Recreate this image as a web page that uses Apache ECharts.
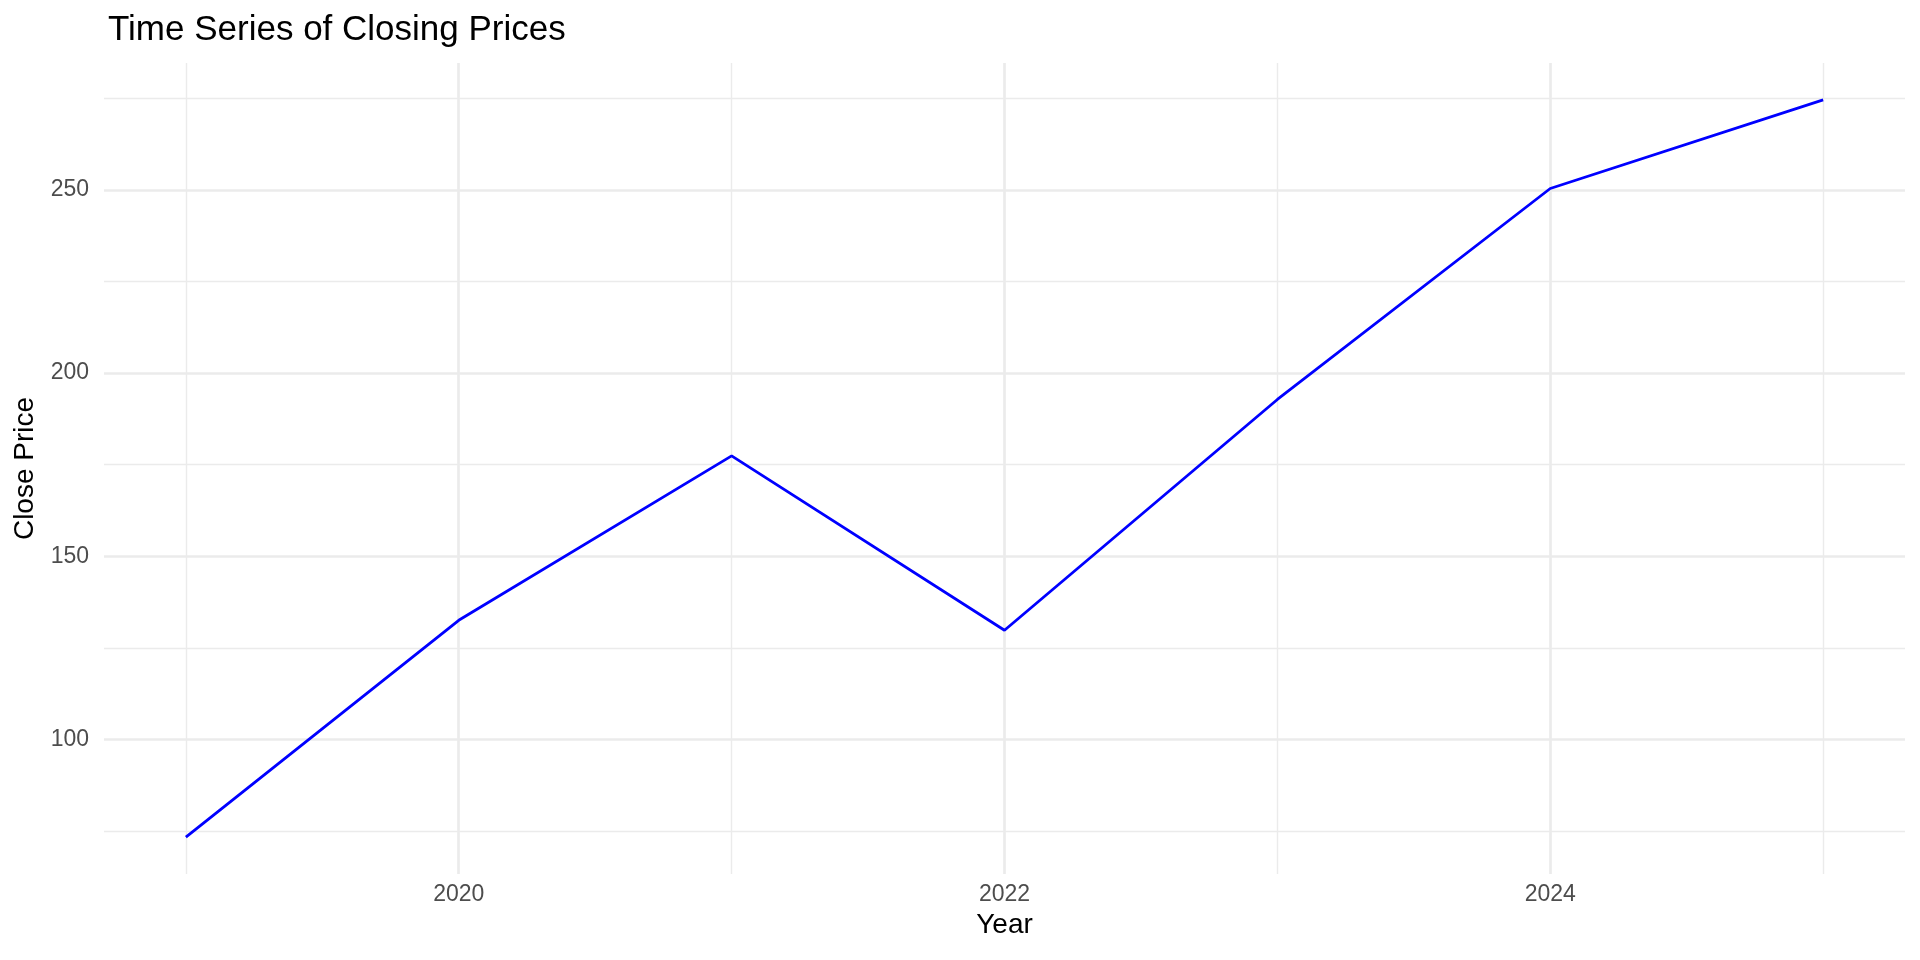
<!DOCTYPE html>
<html><head><meta charset="utf-8">
<script src="https://cdn.jsdelivr.net/npm/echarts@6/dist/echarts.min.js"></script>
<style>html,body{margin:0;padding:0;background:#fff}#c{width:1920px;height:960px}</style>
</head><body><div id="c"></div>
<script>
const years = [2019, 2020, 2021, 2022, 2023, 2024, 2025];
const closePrices = [73.3, 132.5, 177.4, 129.8, 192.8, 250.4, 274.6];
const xMajorTicks = [2020, 2022, 2024];
const xMinorTicks = [2019, 2021, 2023, 2025];
const yMajorTicks = [100, 150, 200, 250];
const yMinorTicks = [75, 125, 175, 225, 275];

function expand(arr) {
  const lo = Math.min(...arr), hi = Math.max(...arr), p = (hi - lo) * 0.05;
  return [lo - p, hi + p];
}
const xr = expand(years), yr = expand(closePrices);
const FONT = 'Liberation Sans';
const gridColor = '#EBEBEB';

const chart = echarts.init(document.getElementById('c'), null, {renderer: 'canvas'});
chart.setOption({
  animation: false,
  backgroundColor: '#ffffff',
  title: {
    text: 'Time Series of Closing Prices',
    left: 103, top: 8,
    textStyle: {fontFamily: FONT, fontSize: 35, fontWeight: 'normal', color: '#000000'}
  },
  grid: {left: 104, right: 15, top: 63, bottom: 86, containLabel: false},
  xAxis: [
    {
      type: 'value', min: xr[0], max: xr[1], position: 'bottom',
      name: 'Year', nameLocation: 'middle', nameGap: 37,
      nameTextStyle: {fontFamily: FONT, fontSize: 28, color: '#000000'},
      axisLine: {show: false},
      axisTick: {show: false, customValues: xMajorTicks},
      axisLabel: {customValues: xMajorTicks, fontFamily: FONT, fontSize: 23, color: '#4D4D4D', margin: 9,
        formatter: v => String(v)},
      splitLine: {show: true, lineStyle: {color: gridColor, width: 2.7}}
    },
    {
      type: 'value', min: xr[0], max: xr[1], position: 'bottom',
      axisLine: {show: false},
      axisTick: {show: false, customValues: xMinorTicks},
      axisLabel: {show: false},
      splitLine: {show: true, lineStyle: {color: gridColor, width: 1.4}}
    }
  ],
  yAxis: [
    {
      type: 'value', min: yr[0], max: yr[1], position: 'left',
      name: 'Close Price', nameLocation: 'middle', nameGap: 63,
      nameTextStyle: {fontFamily: FONT, fontSize: 28, color: '#000000'},
      axisLine: {show: false},
      axisTick: {show: false, customValues: yMajorTicks},
      axisLabel: {customValues: yMajorTicks, fontFamily: FONT, fontSize: 23, color: '#4D4D4D', margin: 15,
        formatter: v => String(v)},
      splitLine: {show: true, lineStyle: {color: gridColor, width: 2.7}}
    },
    {
      type: 'value', min: yr[0], max: yr[1], position: 'left',
      axisLine: {show: false},
      axisTick: {show: false, customValues: yMinorTicks},
      axisLabel: {show: false},
      splitLine: {show: true, lineStyle: {color: gridColor, width: 1.4}}
    }
  ],
  series: [{
    type: 'line',
    xAxisIndex: 0, yAxisIndex: 0,
    data: years.map((y, i) => [y, closePrices[i]]),
    showSymbol: false,
    lineStyle: {color: '#0000FF', width: 2.8},
    z: 5
  }]
});
</script>
</body></html>
